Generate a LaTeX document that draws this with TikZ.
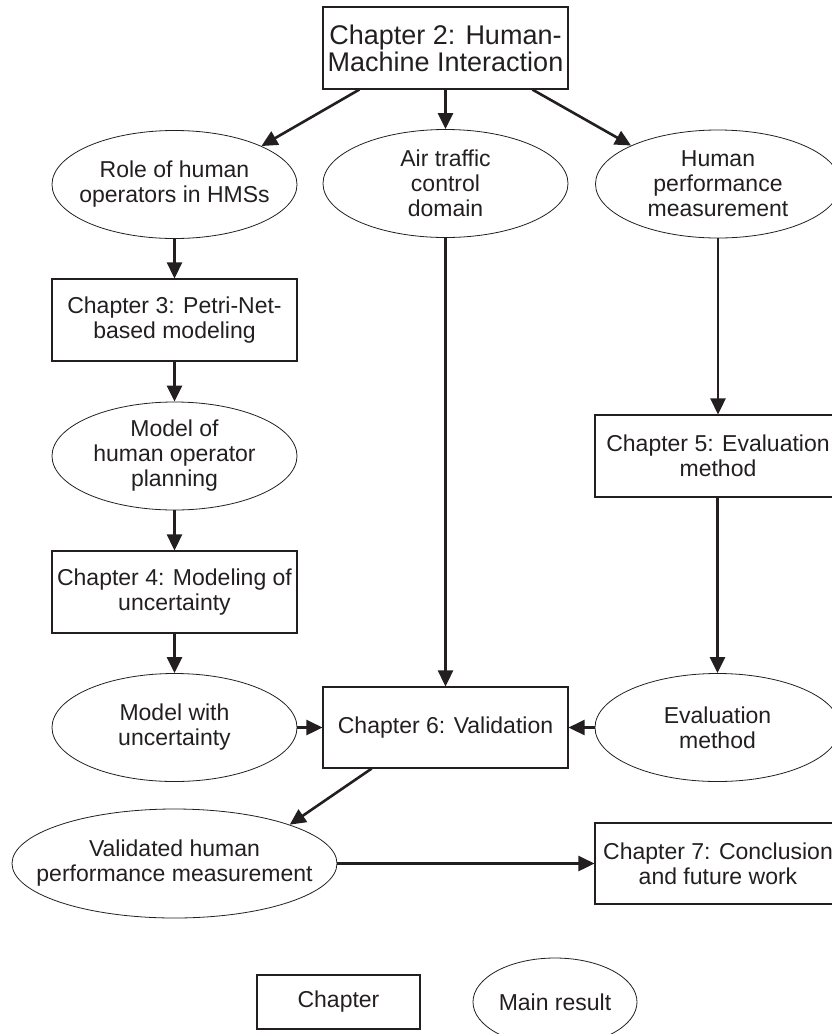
\documentclass[tikz,border=0pt]{standalone}
\usepackage{fontspec}
\setmainfont{Liberation Sans}
\usetikzlibrary{shapes.geometric,arrows.meta,calc}
\definecolor{ink}{HTML}{231F20}
\begin{document}
\begin{tikzpicture}[x=1pt,y=-1pt,
  every node/.style={text=ink, align=center, inner sep=0pt,
    font=\fontsize{23}{25}\selectfont},
  chap/.style={draw=ink, line width=1.1pt, rectangle,
    minimum width=245pt, minimum height=82pt},
  % negative inner sep keeps the ellipse at exactly its minimum size
  result/.style={draw=ink, line width=0.8pt, ellipse,
    inner xsep=-200pt, inner ysep=-100pt,
    minimum width=245pt, minimum height=108pt},
  flow/.style={draw=ink, line width=2.6pt,
    -{Triangle[length=16pt,width=15pt]}}]
\useasboundingbox (0,0) rectangle (832,1034);

% chapters and results
\node[chap, font=\fontsize{27}{27}\selectfont] (ch2) at (445.5,48)
  {Chapter 2: Human-\\Machine Interaction};
\node[result] (role) at (174.5,184.5) {Role of human\\operators in HMSs};
\node[result] (atc) at (445.5,183.5) {Air traffic\\control\\domain};
\node[result] (hpm) at (718,184) {Human\\performance\\measurement};
\node[chap] (ch3) at (174.5,320) {Chapter 3: Petri-Net-\\based modeling};
\node[result] (plan) at (174.5,456) {Model of\\human operator\\planning};
\node[chap] (ch4) at (174.5,592) {Chapter 4: Modeling of\\uncertainty};
\node[result] (unc) at (174.5,727.5) {Model with\\uncertainty};
\node[chap, minimum height=81pt] (ch6) at (445.5,727.5) {Chapter 6: Validation};
\node[chap, minimum width=246pt] (ch5) at (718,456) {Chapter 5: Evaluation\\method};
\node[result] (evm) at (717.5,727.5) {Evaluation\\method};
\node[result, minimum width=325pt, minimum height=109pt] (val) at (174.5,863.5)
  {Validated human\\performance measurement};
\node[chap, minimum width=246pt, minimum height=81pt] (ch7) at (718,863.5)
  {Chapter 7: Conclusion\\and future work};

% legend
\node[chap, minimum width=163pt, minimum height=54pt] (lgchap) at (338.5,1002) {Chapter};
\node[result, minimum width=164pt, minimum height=88pt] (lgres) at (555,1002) {Main result};

% connectors
\draw[flow] ($(ch2.south west)!0.15!(ch2.south east)$) -- (role.north east);
\draw[flow] (ch2.south) -- (atc.north);
\draw[flow] ($(ch2.south west)!0.853!(ch2.south east)$) -- (hpm.north west);
\draw[flow] (role.south) -- (ch3.north);
\draw[flow] (ch3.south) -- (plan.north);
\draw[flow] (plan.south) -- (ch4.north);
\draw[flow] (ch4.south) -- (unc.north);
\draw[flow] (atc.south) -- (ch6.north);
\draw[flow] (hpm.south) -- (hpm.south |- ch5.north);
\draw[flow] (ch5.south -| evm.north) -- (evm.north);
\draw[flow] (unc.east) -- (ch6.west);
\draw[flow] (evm.west) -- (ch6.east);
\draw[flow] ($(ch6.south west)!0.2!(ch6.south east)$) -- (val.north east);
\draw[flow] (val.east) -- (ch7.west);
\end{tikzpicture}
\end{document}
